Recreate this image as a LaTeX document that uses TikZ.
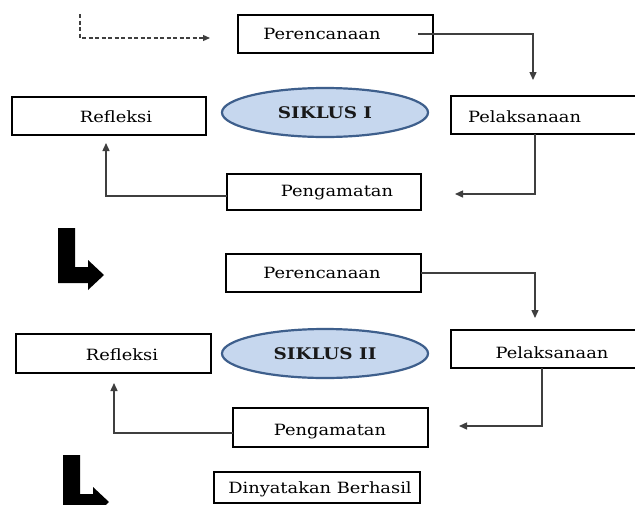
\documentclass[tikz,border=0pt]{standalone}
\usepackage{fontspec}
\setmainfont{DejaVu Serif}[FakeStretch=1.15]
\usetikzlibrary{arrows.meta,shapes.geometric,calc}
\definecolor{conncol}{HTML}{3F3F3F}
\definecolor{ellfill}{HTML}{C6D7EE}
\definecolor{elldraw}{HTML}{3E5F8C}
\tikzset{
  boxnode/.style={draw=black,line width=2.6pt,inner sep=0pt,outer sep=0pt,fill=white},
  txt/.style={inner sep=0pt,font=\fontsize{15.5pt}{17pt}\selectfont,text=black},
  cyc/.style={ellipse,draw=elldraw,fill=ellfill,line width=2.2pt,inner sep=0pt,minimum width=206pt,minimum height=49pt,font=\bfseries\fontsize{16pt}{18pt}\selectfont,text=black!90},
  conn/.style={draw=conncol,line width=1.4pt,-{Triangle[length=8pt,width=7pt]}},
  dashconn/.style={draw=conncol,line width=1.2pt,dash pattern=on 4pt off 2.5pt,-{Triangle[length=7pt,width=6pt]}},
  bigL/.style={fill=black,draw=none}
}
\begin{document}
\begin{tikzpicture}[x=1pt,y=-1pt]
\clip (0,0) rectangle (635,504);
\fill[white] (0,0) rectangle (635,504);
% ---------- cycle I ----------
\node[boxnode,minimum width=195pt,minimum height=38pt] (per1) at (335.5,34) {};
\node[txt] (per1t) at (322,34) {Perencanaan};
\node[boxnode,minimum width=194pt,minimum height=38pt] (ref1) at (109,116) {};
\node[txt] (ref1t) at (116,117) {Refleksi};
\node[cyc] (sik1) at (325,112.5) {SIKLUS I};
\node[boxnode,minimum width=190pt,minimum height=38pt] (pel1) at (546,115) {};
\node[txt,anchor=west] (pel1t) at (468,117) {Pelaksanaan};
\node[boxnode,minimum width=194pt,minimum height=36pt] (peng1) at (324,192) {};
\node[txt] (peng1t) at (337,193) {Pengamatan};
% ---------- cycle II ----------
\node[boxnode,minimum width=195pt,minimum height=38pt] (per2) at (323.5,273) {};
\node[txt] (per2t) at (322,273) {Perencanaan};
\node[boxnode,minimum width=195pt,minimum height=39pt] (ref2) at (113.5,353.5) {};
\node[txt] (ref2t) at (122,355) {Refleksi};
\node[cyc] (sik2) at (325,353.5) {SIKLUS II};
\node[boxnode,minimum width=190pt,minimum height=38pt] (pel2) at (546,349) {};
\node[txt] (pel2t) at (552,353) {Pelaksanaan};
\node[boxnode,minimum width=195pt,minimum height=39pt] (peng2) at (330.5,427.5) {};
\node[txt] (peng2t) at (330,432) {Pengamatan};
% ---------- result ----------
\node[boxnode,minimum width=206pt,minimum height=31pt] (din) at (317,487.5) {};
\node[txt] (dint) at (320,489) {Dinyatakan Berhasil};
% ---------- connectors ----------
\coordinate (ds) at (80,14);
\coordinate (de) at (210,38);
\draw[dashconn] (ds) |- (de);
\coordinate (a1) at (533,80);
\draw[conn] ([xshift=-15pt]per1.east) -| (a1);
\coordinate (b1) at (535,194);
\coordinate (b2) at (455,194);
\draw[conn] (pel1.south -| b1) -- (b1) -- (b2);
\coordinate (c1) at (106,196);
\coordinate (c2) at (106,143);
\draw[conn] (peng1.west |- c1) -- (c1) -- (c2);
\coordinate (a2) at (535,318);
\draw[conn] (per2.east |- per2t) -| (a2);
\coordinate (d1) at (542,426);
\coordinate (d2) at (459,426);
\draw[conn] (pel2.south -| d1) -- (d1) -- (d2);
\coordinate (e1) at (114,433);
\coordinate (e2) at (114,383);
\draw[conn] (peng2.west |- e1) -- (e1) -- (e2);
% ---------- big L arrows ----------
\fill[bigL] (58,228) -- (75,228) -- (75,267) -- (88,267) -- (88,260) -- (104,275) -- (88,290) -- (88,283) -- (58,283) -- cycle;
\begin{scope}[shift={(5,227)}]
\fill[bigL] (58,228) -- (75,228) -- (75,267) -- (88,267) -- (88,260) -- (104,275) -- (88,290) -- (88,283) -- (58,283) -- cycle;
\end{scope}
\end{tikzpicture}
\end{document}
